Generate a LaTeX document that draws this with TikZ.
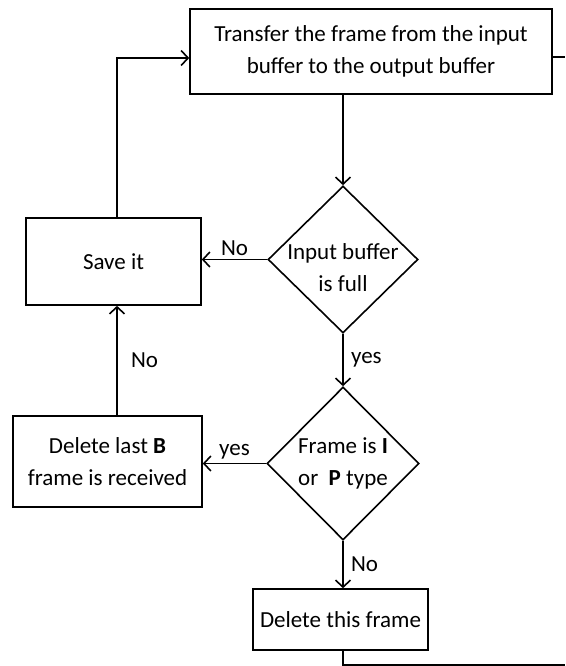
\documentclass[tikz,border=0pt]{standalone}
\usepackage{fontspec}
\setmainfont{Carlito}
\usetikzlibrary{shapes.geometric,arrows.meta}

\tikzset{
  every node/.style={font=\fontsize{23}{32}\selectfont},
  box/.style={draw, line width=1.6pt, align=center},
  dia/.style={draw, diamond, line width=1.6pt, inner sep=0pt},
  arr/.style={line width=1.6pt, -{Straight Barb[length=7pt,width=15pt]}},
  ln/.style={line width=1.6pt}
}

\begin{document}
\begin{tikzpicture}[x=1pt,y=-1pt]
	\useasboundingbox (0,0) rectangle (565,666);
	% boxes
	\node[box, minimum width=362pt, minimum height=85pt] (xfer) at (371,51.5) {Transfer the frame from the input\\buffer to the output buffer};
	\node[box, minimum width=175pt, minimum height=87pt] (save) at (113.5,261.5) {Save it};
	\node[box, minimum width=189pt, minimum height=91pt] (dropb) at (107.5,461.5) {Delete last \textbf{B}\\frame is received};
	\node[box, minimum width=175pt, minimum height=61pt] (dropf) at (340.5,619.5) {Delete this frame};
	% decisions
	\node[dia, minimum width=150pt, minimum height=147pt] (full) at (343,259.5) {};
	\node[align=center] (fulltxt) at (343,268) {Input buffer\\is full};
	\node[dia, minimum width=152pt, minimum height=153pt] (ftype) at (343,463.5) {};
	\node[align=center] (ftypetxt) at (343,463.5) {Frame is \textbf{I}\\or\ \ \textbf{P} type};
	% connectors
	\coordinate (loopx) at (117,58);
	\coordinate (outtop) at (565,57);
	\coordinate (outbot) at (565,665);
	\draw[arr] (full |- xfer.south) -- (full.north);
	\draw[arr] (full.west) -- node[above] {No} (full.west -| save.east);
	\draw[arr] (full.south) -- node[right=4pt] {yes} (ftype.north);
	\draw[arr] (ftype.west) -- node[above] {yes} (ftype.west -| dropb.east);
	\draw[arr] (ftype.south) -- node[right=4pt] {No} (ftype.south |- dropf.north);
	\draw[arr] (dropb.north -| loopx) -- node[right=10pt] {No} (save.south -| loopx);
	\draw[arr] (save.north -| loopx) -- (loopx) -- (loopx -| xfer.west);
	\draw[ln] (xfer.east |- outtop) -- (outtop);
	\draw[ln] (ftype |- dropf.south) -- (ftype |- outbot) -- (outbot);
\end{tikzpicture}
\end{document}
